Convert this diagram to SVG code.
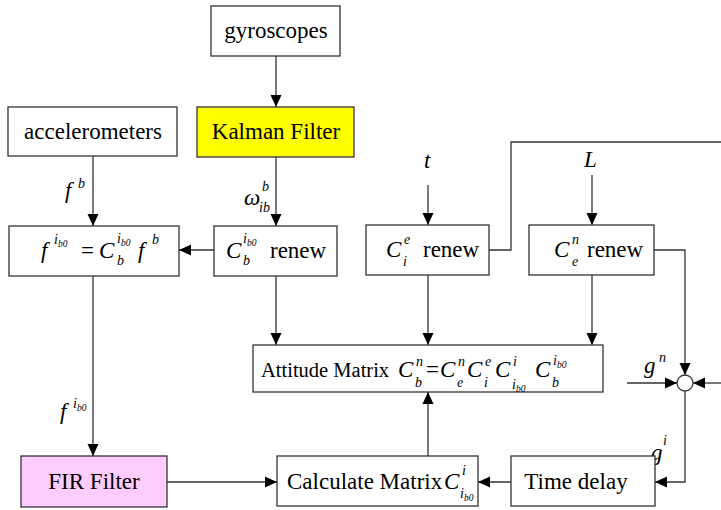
<svg xmlns="http://www.w3.org/2000/svg" width="721" height="510" viewBox="0 0 721 510">
<defs>
<marker id="ah" viewBox="0 0 12 12" markerWidth="12" markerHeight="12" refX="12" refY="6" orient="auto" markerUnits="userSpaceOnUse">
<path d="M0,0.5 L12,6 L0,11.5 z" fill="#000"/>
</marker>
<style>
.box{fill:#fff;stroke:#333;stroke-width:1.3}
.ln{fill:none;stroke:#333;stroke-width:1.3}
.ar{fill:none;stroke:#333;stroke-width:1.3;marker-end:url(#ah)}
.t,.u,.m,.s,.ss{font-family:Liberation Serif,serif;fill:#000}
.t{font-size:23px;text-anchor:middle}
.u{font-size:23px}
.m{font-size:23px;font-style:italic}
.s{font-size:14px;font-style:italic}
.ss{font-size:9.5px;font-style:italic}
</style>
</defs>
<rect width="721" height="510" fill="#fff"/>
<g id="connectors">
<path class="ar" d="M276,56 V107"/>
<path class="ar" d="M93,156 V226"/>
<path class="ar" d="M276,157 V226"/>
<path class="ar" d="M214,250 H179"/>
<path class="ar" d="M93,276 V456"/>
<path class="ar" d="M428,185 V225"/>
<path class="ar" d="M592,175 V225"/>
<path class="ar" d="M276,276 V345"/>
<path class="ar" d="M428,275 V345"/>
<path class="ar" d="M592,275 V345"/>
<path class="ln" d="M489,250 H511 V142 H721"/>
<path class="ar" d="M654,250 H685 V375"/>
<path class="ar" d="M627,383 H677"/>
<path class="ar" d="M721,383 H693"/>
<path class="ar" d="M685,391 V482 H655"/>
<path class="ar" d="M511,482 H478"/>
<path class="ar" d="M167,482 H277"/>
<path class="ar" d="M428,456 V392"/>
</g>
<g id="labels">
<text class="m" x="65" y="198">f</text><text class="s" x="78" y="188">b</text>
<text class="m" x="244" y="205">ω</text><text class="s" x="262" y="191">b</text><text class="s" x="259" y="212">ib</text>
<text class="m" x="60" y="419">f</text><text class="s" x="73" y="408">i</text><text class="ss" x="77" y="411">b0</text>
<text class="m" x="424" y="168">t</text>
<text class="m" x="584" y="167">L</text>
<text class="m" x="644" y="373">g</text><text class="s" x="659" y="362">n</text>
<text class="m" x="651" y="460">g</text><text class="s" x="663" y="445">i</text>
</g>
<g id="gyroscopes"><rect class="box" x="211" y="6" width="129" height="50"/><text class="t" x="276" y="38">gyroscopes</text></g>
<g id="kalman"><rect class="box" x="197" y="107" width="157" height="50" style="fill:#ffff00"/><text class="t" x="276" y="139">Kalman Filter</text></g>
<g id="accelerometers"><rect class="box" x="8" y="107" width="169" height="49"/><text class="t" x="93" y="139">accelerometers</text></g>
<g id="fbox"><rect class="box" x="9" y="226" width="170" height="50"/>
<text class="m" x="41" y="258">f</text><text class="s" x="54" y="244">i</text><text class="ss" x="58" y="247">b0</text>
<text class="u" x="81" y="258">=</text>
<text class="m" x="99" y="258">C</text><text class="s" x="117" y="243">i</text><text class="ss" x="121" y="246">b0</text><text class="s" x="117" y="265">b</text>
<text class="m" x="138" y="258">f</text><text class="s" x="152" y="244">b</text>
</g>
<g id="cbrenew"><rect class="box" x="214" y="226" width="123" height="50"/>
<text class="m" x="226" y="258">C</text><text class="s" x="243" y="243">i</text><text class="ss" x="247" y="246">b0</text><text class="s" x="243" y="265">b</text>
<text class="u" x="270" y="258">renew</text>
</g>
<g id="cierenew"><rect class="box" x="366" y="225" width="123" height="50"/>
<text class="m" x="386" y="257">C</text><text class="s" x="404" y="244">e</text><text class="s" x="403" y="266">i</text>
<text class="u" x="423" y="257">renew</text>
</g>
<g id="cenrenew"><rect class="box" x="529" y="225" width="125" height="50"/>
<text class="m" x="554" y="257">C</text><text class="s" x="572" y="244">n</text><text class="s" x="572" y="266">e</text>
<text class="u" x="587" y="257">renew</text>
</g>
<g id="attitude"><rect class="box" x="253" y="345" width="350" height="47"/>
<text class="u" x="261" y="377" style="font-size:20.5px">Attitude Matrix</text>
<text class="m" x="398" y="377">C</text><text class="s" x="416" y="366">n</text><text class="s" x="415" y="387">b</text>
<text class="u" x="426" y="377">=</text>
<text class="m" x="440" y="377">C</text><text class="s" x="458" y="366">n</text><text class="s" x="457" y="387">e</text>
<text class="m" x="467" y="377">C</text><text class="s" x="485" y="366">e</text><text class="s" x="484" y="387">i</text>
<text class="m" x="495" y="377">C</text><text class="s" x="513" y="366">i</text><text class="s" x="512" y="389">i</text><text class="ss" x="516" y="392">b0</text>
<text class="m" x="535" y="377">C</text><text class="s" x="553" y="365">i</text><text class="ss" x="557" y="368">b0</text><text class="s" x="552" y="387">b</text>
</g>
<g id="fir"><rect class="box" x="21" y="456" width="146" height="51" style="fill:#ffccff"/><text class="t" x="94" y="489">FIR Filter</text></g>
<g id="calculate"><rect class="box" x="277" y="456" width="201" height="50"/>
<text class="u" x="287" y="489">Calculate Matrix</text>
<text class="m" x="444" y="489">C</text><text class="s" x="462" y="475">i</text><text class="s" x="460" y="498">i</text><text class="ss" x="464" y="501">b0</text>
</g>
<g id="timedelay"><rect class="box" x="511" y="456" width="144" height="50"/><text class="t" x="576" y="489">Time delay</text></g>
<g id="sum"><circle class="box" cx="685" cy="383" r="8"/></g>
</svg>
